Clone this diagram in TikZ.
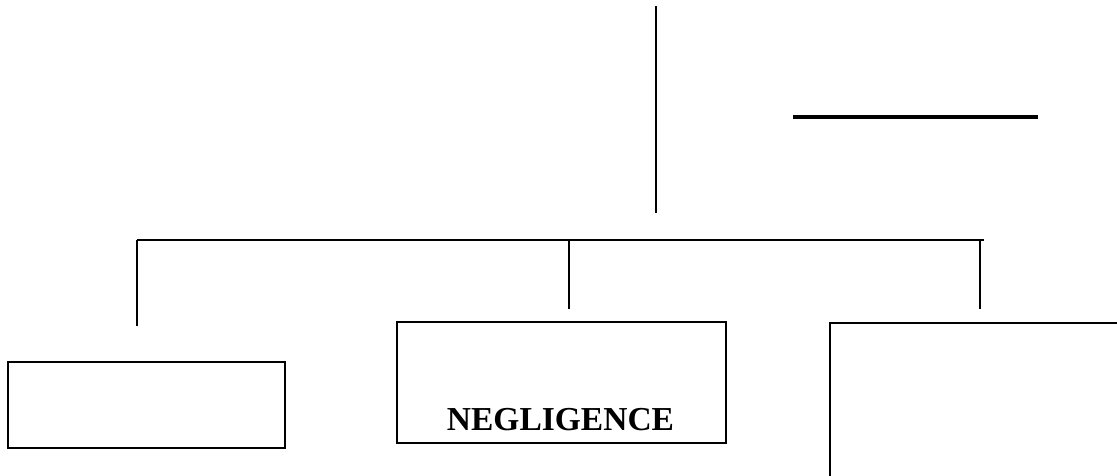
\documentclass[tikz,border=0pt]{standalone}
\usepackage{fontspec}
\setmainfont{Liberation Serif}
\begin{document}
\begin{tikzpicture}[x=1pt,y=-1pt,
  boxstyle/.style={draw=black,rectangle,inner sep=0pt,line width=1.4pt},
  conn/.style={draw=black,line width=1.4pt}]
\useasboundingbox (0,0) rectangle (1117,476);
\clip (0,0) rectangle (1117,476);
% top vertical line and short horizontal rule
\coordinate (topA) at (656,6);
\coordinate (topB) at (656,213);
\draw[conn,line width=1.6pt] (topA) -- (topB);
\coordinate (ruleA) at (793,117);
\coordinate (ruleB) at (1038,117);
\draw[line width=3.2pt] (ruleA) -- (ruleB);
% boxes
\node[boxstyle,minimum width=277pt,minimum height=86pt] (left) at (146.5,405) {};
\node[boxstyle,minimum width=329pt,minimum height=121pt] (mid) at (561.5,382.5) {};
\node[anchor=base,inner sep=0pt,font=\fontsize{33.5}{36}\selectfont\bfseries] (neg) at (560.5,430) {NEGLIGENCE};
\node[boxstyle,line width=2.2pt,minimum width=320pt,minimum height=180pt,anchor=north west] (right) at (829,322) {};
% bar and drops
\coordinate (barL) at (137,240);
\coordinate (barR) at (984,240);
\draw[conn] (barL) -- (barR);
\coordinate (dropL) at (137,326);
\coordinate (dropM1) at (569,240);
\coordinate (dropM2) at (569,309);
\coordinate (dropR1) at (980,240);
\coordinate (dropR2) at (980,309);
\draw[conn] (barL) -- (dropL);
\draw[conn] (dropM1) -- (dropM2);
\draw[conn] (dropR1) -- (dropR2);
\end{tikzpicture}
\end{document}
